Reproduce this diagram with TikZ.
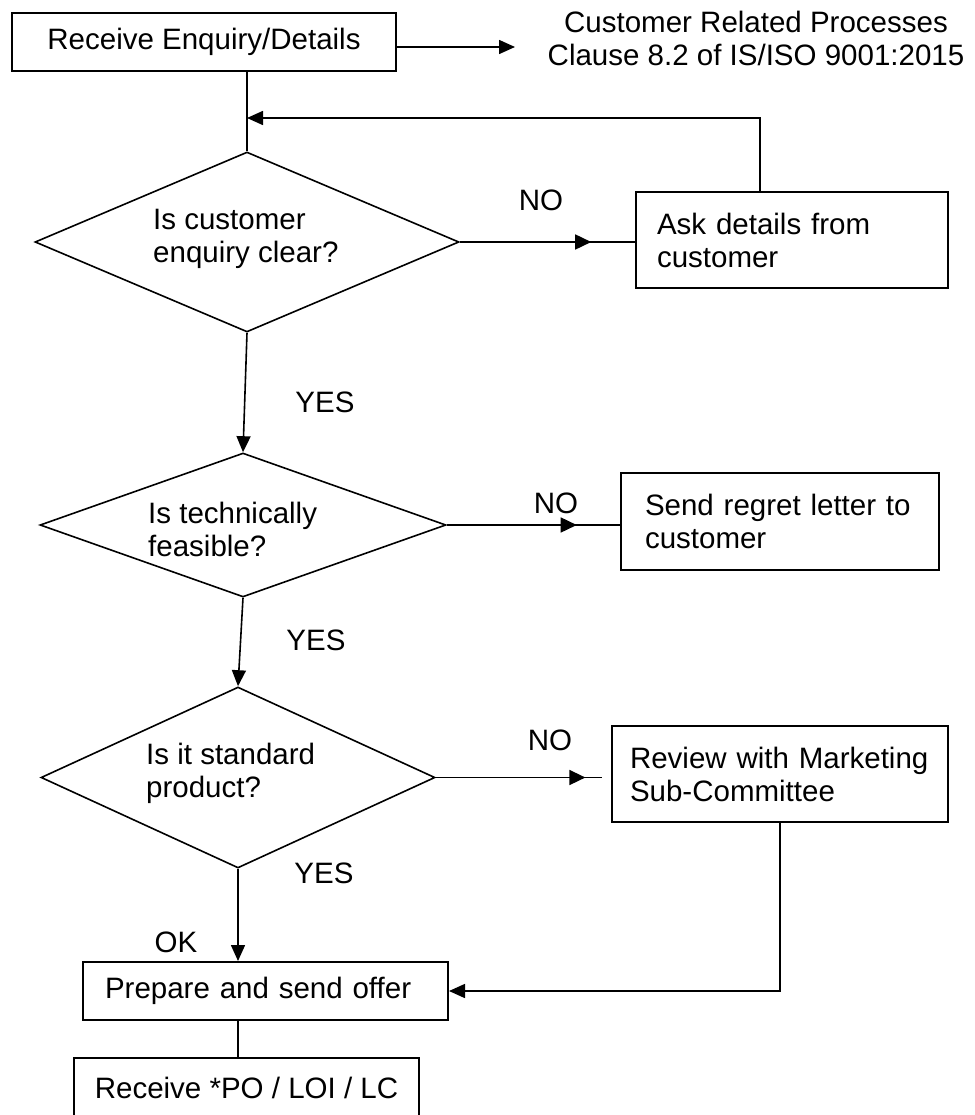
\documentclass[tikz,border=0pt]{standalone}
\usepackage{fontspec}
\setmainfont{Liberation Sans}
\usetikzlibrary{arrows.meta,shapes.geometric,decorations.markings}

\tikzset{
  tip/.style={-{Triangle[length=16pt,width=14pt]}},
  conn/.style={line width=1.6pt},
  box/.style={draw, line width=2pt, inner sep=0pt, align=left},
  decision/.style={draw, diamond, line width=1.6pt, inner sep=0pt},
  lbl/.style={inner sep=0pt},
  qtext/.style={inner sep=0pt, anchor=west, align=left},
  midtip/.style={postaction={decorate,decoration={markings,
      mark=at position #1 with {\arrow{Triangle[length=16pt,width=15pt]}}}}},
}

\begin{document}
\begin{tikzpicture}[x=1pt, y=-1pt, font=\fontsize{29.5}{33}\selectfont]
\useasboundingbox (0,0) rectangle (974,1115);
\clip (0,0) rectangle (974,1115);

% entry box and clause reference
\node[box, align=center, minimum width=384pt, minimum height=58pt] (recv0) at (204,42) {Receive Enquiry/Details};
\node[lbl, align=center] (clause) at (756,38) {Customer Related Processes\\Clause 8.2 of IS/ISO 9001:2015};
\coordinate (clausein) at (515,47);
\draw[conn,tip] ([yshift=-5pt]recv0.east) -- (clausein);

% first decision: enquiry clear?
\coordinate (join) at (247,118);
\node[decision, minimum width=424pt, minimum height=180pt] (d1) at (247,242) {};
\node[qtext] (d1t) at (153,239) {Is customer\\enquiry clear?};
\draw[conn] (recv0.south -| join) -- (d1.north);

\node[box, minimum width=312pt, minimum height=96pt, text width=270pt] (ask) at (792,240) {Ask details from\\customer};
\draw[conn, midtip=0.75] (d1.east) -- (d1.east -| ask.west);
\draw[conn,tip] ([xshift=-32pt]ask.north) |- (join);
\node[lbl] (no1) at (541,200) {NO};
\node[lbl] (yes1) at (325,402) {YES};

% second decision: technically feasible?
\node[decision, minimum width=406pt, minimum height=144pt] (d2) at (243,525) {};
\node[qtext] (d2t) at (148,529) {Is technically\\feasible?};
\draw[conn,tip] (d1.south) -- (d2.north);

\node[box, minimum width=318pt, minimum height=97pt, text width=270pt] (regret) at (780,521.5) {Send regret letter to\\customer};
\draw[conn, midtip=0.75] (d2.east) -- (d2.east -| regret.west);
\node[lbl] (no2) at (556,503) {NO};
\node[lbl] (yes2) at (316,640) {YES};

% third decision: standard product?
\node[decision, minimum width=394pt, minimum height=181pt] (d3) at (238,777.5) {};
\node[qtext] (d3t) at (146,773) {Is it standard\\product?};
\draw[conn,tip] (d2.south) -- (d3.north);

\node[box, minimum width=336pt, minimum height=96pt, text width=300pt] (review) at (780,774) {Review with Marketing\\Sub-Committee};
\draw[conn, midtip=0.9] (d3.east) -- ([xshift=-9pt]d3.east -| review.west);
\node[lbl] (no3) at (550,740) {NO};
\node[lbl] (yes3) at (324,873) {YES};
\node[lbl] (ok) at (176,942) {OK};

% offer and order
\node[box, minimum width=365pt, minimum height=58pt, text width=321pt] (prep) at (265.5,991) {Prepare and send offer};
\draw[conn,tip] (d3.south) -- (d3.south |- prep.north);
\draw[conn,tip] (review.south) |- (prep.east);

\node[box, align=center, minimum width=345pt, minimum height=60pt] (order) at (246.5,1088) {Receive *PO / LOI / LC};
\draw[conn] (d3.south |- prep.south) -- (d3.south |- order.north);
\end{tikzpicture}
\end{document}
